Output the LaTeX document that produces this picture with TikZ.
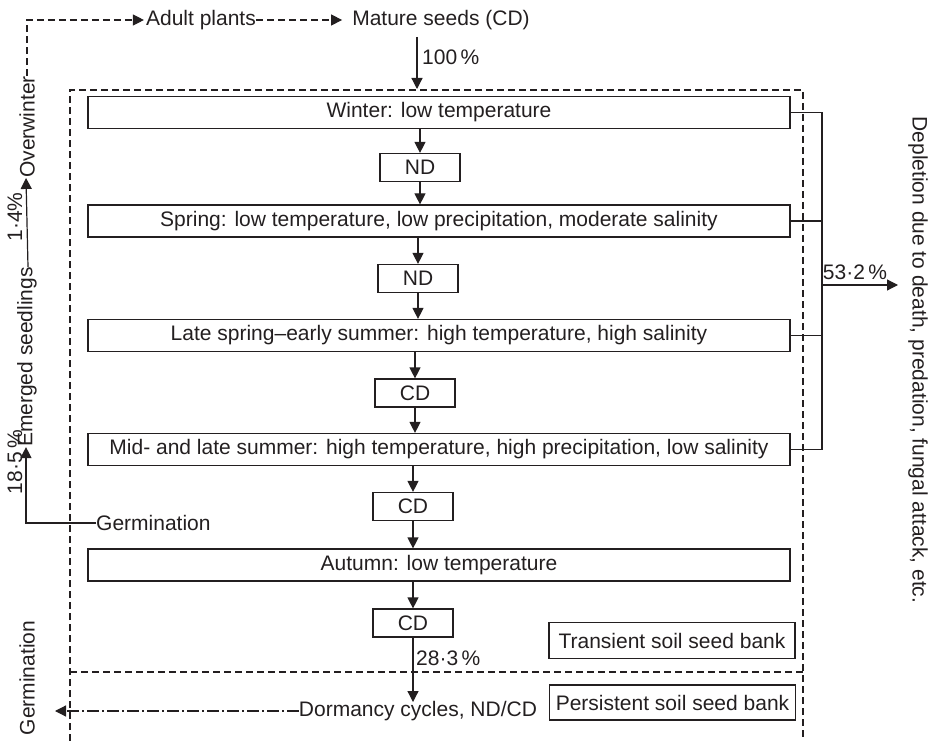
\documentclass[tikz,border=0pt]{standalone}
\usepackage{fontspec}
\setmainfont{Liberation Sans}
\usetikzlibrary{arrows.meta}
\definecolor{ink}{HTML}{231F20}
\begin{document}
\begin{tikzpicture}[x=1pt,y=-1pt,
  every node/.style={font=\fontsize{21}{23}\selectfont, text=ink},
  bigbox/.style={draw=ink, line width=1.2pt, minimum width=702pt, minimum height=32pt, inner sep=0pt},
  smallbox/.style={draw=ink, line width=1.2pt, minimum width=80pt, minimum height=28pt, inner sep=0pt},
  bankbox/.style={draw=ink, line width=1.2pt, minimum width=246pt, minimum height=36pt, inner sep=0pt},
  lbl/.style={inner sep=0pt},
  conn/.style={draw=ink, line width=1.2pt},
  tip/.style={-{Triangle[length=11pt,width=11pt]}},
  arr/.style={conn, tip},
  dsh/.style={conn, dash pattern=on 7pt off 4pt},
  dashdot/.style={conn, dash pattern=on 12pt off 3pt on 2pt off 3pt},
]
\useasboundingbox (0,0) rectangle (935,741);

% frame
\draw[dsh] (70,741) -- (70,90) -- (803,90) -- (803,741);
\draw[dsh] (70,672) -- (803,672);

% main column
\node[bigbox] (winter) at (439,112.5) {Winter: low temperature};
\node[smallbox] (nd1) at (420,167.5) {ND};
\node[bigbox] (spring) at (439,221) {Spring: low temperature, low precipitation, moderate salinity};
\node[smallbox] (nd2) at (418,278.5) {ND};
\node[bigbox] (late) at (439,335.5) {Late spring--early summer: high temperature, high salinity};
\node[smallbox] (cd1) at (415,393) {CD};
\node[bigbox] (mid) at (439,449.5) {Mid- and late summer: high temperature, high precipitation, low salinity};
\node[smallbox] (cd2) at (413,506.5) {CD};
\node[bigbox] (autumn) at (439,565) {Autumn: low temperature};
\node[smallbox] (cd3) at (413,623) {CD};

\draw[arr] (winter.south -| nd1) -- (nd1.north);
\draw[arr] (nd1.south) -- (spring.north -| nd1);
\draw[arr] (spring.south -| nd2) -- (nd2.north);
\draw[arr] (nd2.south) -- (late.north -| nd2);
\draw[arr] (late.south -| cd1) -- (cd1.north);
\draw[arr] (cd1.south) -- (mid.north -| cd1);
\draw[arr] (mid.south -| cd2) -- (cd2.north);
\draw[arr] (cd2.south) -- (autumn.north -| cd2);
\draw[arr] (autumn.south -| cd3) -- (cd3.north);

% top
\node[lbl] (adult) at (201,20) {Adult plants};
\node[lbl] (mature) at (441,20) {Mature seeds (CD)};
\coordinate (ms) at (417,37);
\coordinate (boxtop) at (417,89);
\draw[arr] (ms) -- (boxtop);
\node[lbl, anchor=west] (p100) at (422,57) {100\,\%};
\draw[dsh, tip, shorten >=10pt] (adult.east) -- (mature.west);

% left side
\node[lbl, rotate=90] (overwinter) at (27,127) {Overwinter};
\node[lbl, rotate=90] (emerged) at (27,357) {Emerged seedlings};
\node[lbl, rotate=90] (p14) at (15,217) {1·4\%};
\node[lbl, rotate=90] (p185) at (15,462) {18·5\,\%};
\node[lbl, anchor=west] (germ) at (96,523) {Germination};
\draw[dsh, tip, shorten >=2pt] (overwinter.east) |- (adult.west);
\draw[arr] ([xshift=1pt]emerged.east) -- ([xshift=-1pt]overwinter.west);
\draw[arr] (germ.west) -| ([xshift=-1pt]emerged.west);

% right side
\coordinate (bx) at (822,285);
\coordinate (deptip) at (898,285);
\draw[conn] (winter.east) -- (winter.east -| bx) -- (mid.east -| bx) -- (mid.east);
\draw[conn] (spring.east) -- (spring.east -| bx);
\draw[conn] (late.east) -- (late.east -| bx);
\draw[arr] (bx) -- (deptip);
\node[lbl] (p532) at (855,272) {53·2\,\%};
\node[lbl, rotate=-90] (depl) at (918,360) {Depletion due to death, predation, fungal attack, etc.};

% bottom
\node[bankbox] (trans) at (672,640.5) {Transient soil seed bank};
\node[bankbox, minimum height=35pt] (pers) at (672.5,702.5) {Persistent soil seed bank};
\node[lbl] (dorm) at (418,711) {Dormancy cycles, ND/CD};
\node[lbl, anchor=west] (p283) at (416,658) {28·3\,\%};
\node[lbl, rotate=90] (germ2) at (27,678) {Germination};
\coordinate (gtip) at (55,711);
\draw[arr] (cd3.south) -- ([yshift=-1pt]cd3.south |- dorm.north);
\draw[dashdot, tip] (dorm.west) -- (gtip);
\end{tikzpicture}
\end{document}
